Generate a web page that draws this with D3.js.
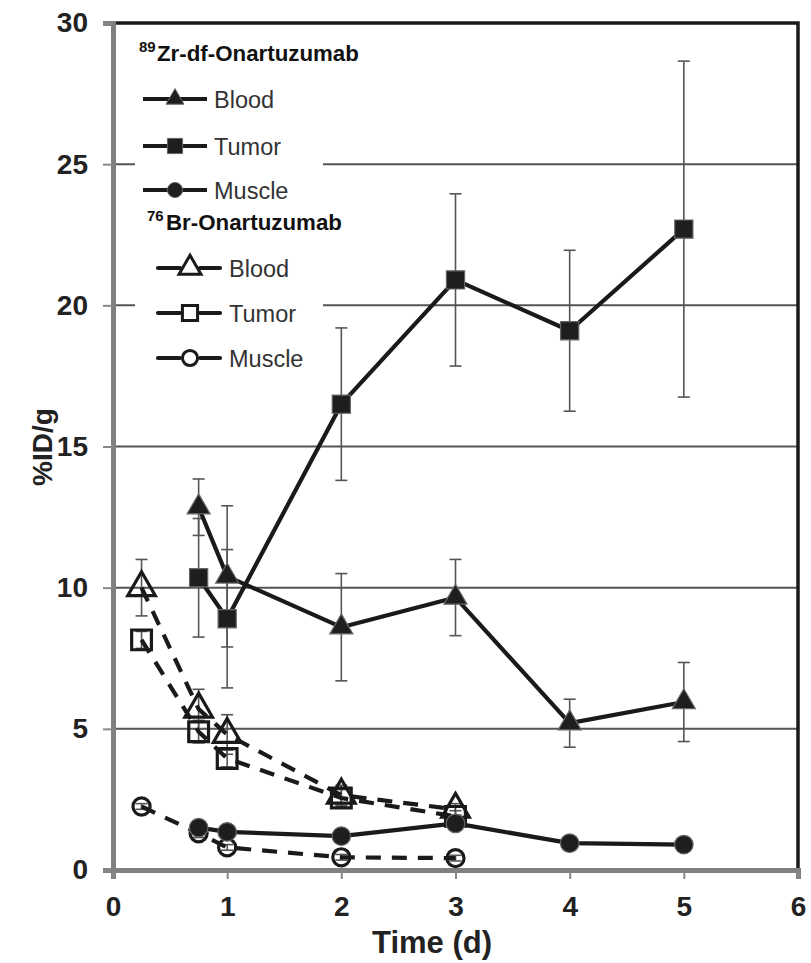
<!DOCTYPE html>
<html><head><meta charset="utf-8">
<script src="https://cdn.jsdelivr.net/npm/d3@7"></script>
<style>
html,body{margin:0;padding:0;background:#fff;}
svg{display:block;font-family:"Liberation Sans",Arial,sans-serif;}
</style></head>
<body>
<svg id="chart" width="811" height="963"></svg>
<script>
// ---- data ----
const xTicks = [0,1,2,3,4,5,6];
const yTicks = [0,5,10,15,20,25,30];
const gridValues = [5,10,15,20,25];

const zrTimes = [0.75,1,2,3,4,5];
const zrBlood = [12.85,10.4,8.6,9.65,5.2,5.95];
const zrBloodErr = [1.0,2.5,1.9,1.35,0.85,1.4];
const zrTumor = [10.35,8.9,16.5,20.9,19.1,22.7];
const zrTumorErr = [2.1,2.45,2.7,3.05,2.85,5.95];
const zrMuscle = [1.5,1.35,1.2,1.65,0.95,0.9];
const zrMuscleErr = [0.2,0.15,0.15,0.2,0.1,0.1];

const brTimes = [0.25,0.75,1,2,3];
const brBlood = [10.0,5.7,4.8,2.65,2.15];
const brBloodErr = [1.0,0.7,0.7,0.35,0.2];
const brTumor = [8.15,4.9,3.95,2.55,1.9];
const brTumorErr = [0.3,0.4,0.3,0.3,0.2];
const brMuscle = [2.25,1.3,0.8,0.45,0.42];
const brMuscleErr = [0.1,0.15,0.1,0.1,0.1];

const zrLabel = ["89","Zr-df-Onartuzumab"];
const brLabel = ["76","Br-Onartuzumab"];
const seriesNames = ["Blood","Tumor","Muscle"];

// ---- layout ----
const svg = d3.select("#chart");
const x = d3.scaleLinear().domain([0,6]).range([113,798]);
const y = d3.scaleLinear().domain([0,30]).range([870,23]);

const symTri = d3.symbolTriangle, symSq = d3.symbolSquare, symCirc = d3.symbolCircle;

// gridlines
svg.append("g").selectAll("line").data(gridValues).join("line")
  .attr("x1", x(0)).attr("x2", x(6))
  .attr("y1", d=>y(d)).attr("y2", d=>y(d))
  .attr("stroke","#555").attr("stroke-width",2);

// frame: top and right black
svg.append("path")
  .attr("d", `M${x(0)},${y(30)}H${x(6)}V${y(0)}`)
  .attr("fill","none").attr("stroke","#1a1a1a").attr("stroke-width",3.5);

// axes
const yAxis = d3.axisLeft(y).tickValues(yTicks).tickSize(10).tickPadding(15).tickFormat(d3.format("d"));
const gy = svg.append("g").attr("transform",`translate(${x(0)},0)`).call(yAxis);
gy.select(".domain").attr("stroke","#808080").attr("stroke-width",5);
gy.selectAll(".tick line").attr("stroke","#888").attr("stroke-width",2);
gy.selectAll(".tick text").attr("font-size",28).attr("font-weight","bold").attr("fill","#222")
  .attr("font-family",'"Liberation Sans",Arial,sans-serif');

const xAxis = d3.axisBottom(x).tickValues(xTicks).tickSize(9).tickPadding(17).tickFormat(d3.format("d"));
const gx = svg.append("g").attr("transform",`translate(0,${y(0)})`).call(xAxis);
gx.select(".domain").attr("stroke","#808080").attr("stroke-width",5);
gx.selectAll(".tick line").attr("stroke","#888").attr("stroke-width",2);
gx.selectAll(".tick text").attr("font-size",28).attr("font-weight","bold").attr("fill","#222")
  .attr("font-family",'"Liberation Sans",Arial,sans-serif');

// axis titles
svg.append("text").attr("x",432).attr("y",953).attr("text-anchor","middle")
  .attr("font-size",31).attr("font-weight","bold").attr("fill","#222").text("Time (d)");
svg.append("text").attr("transform","translate(52,447) rotate(-90)").attr("text-anchor","middle")
  .attr("font-size",28).attr("font-weight","bold").attr("fill","#222").text("%ID/g");

// legend background
svg.append("rect").attr("x",135).attr("y",32).attr("width",188).attr("height",350).attr("fill","#fff");

// error bars
function errorBars(times, vals, errs) {
  const g = svg.append("g").attr("stroke","#555").attr("stroke-width",1.6);
  times.forEach((t,i)=>{
    const cx = x(t), lo = y(vals[i]-errs[i]), hi = y(vals[i]+errs[i]);
    g.append("line").attr("x1",cx).attr("x2",cx).attr("y1",lo).attr("y2",hi);
    g.append("line").attr("x1",cx-6).attr("x2",cx+6).attr("y1",lo).attr("y2",lo);
    g.append("line").attr("x1",cx-6).attr("x2",cx+6).attr("y1",hi).attr("y2",hi);
  });
}
errorBars(zrTimes, zrBlood, zrBloodErr);
errorBars(zrTimes, zrTumor, zrTumorErr);
errorBars(zrTimes, zrMuscle, zrMuscleErr);
errorBars(brTimes, brBlood, brBloodErr);
errorBars(brTimes, brTumor, brTumorErr);
errorBars(brTimes, brMuscle, brMuscleErr);

// lines
const line = d3.line().x(d=>x(d[0])).y(d=>y(d[1]));
function drawLine(times, vals, dashed) {
  svg.append("path").datum(times.map((t,i)=>[t,vals[i]]))
    .attr("d", line).attr("fill","none").attr("stroke","#1a1a1a")
    .attr("stroke-width",4.2).attr("stroke-linejoin","round")
    .attr("stroke-dasharray", dashed ? "15,11" : null);
}
drawLine(brTimes, brBlood, true);
drawLine(brTimes, brTumor, true);
drawLine(brTimes, brMuscle, true);
drawLine(zrTimes, zrBlood, false);
drawLine(zrTimes, zrTumor, false);
drawLine(zrTimes, zrMuscle, false);

// markers
function drawMarkers(times, vals, type, size, open) {
  svg.append("g").selectAll("path").data(times.map((t,i)=>[t,vals[i]])).join("path")
    .attr("transform", d=>`translate(${x(d[0])},${y(d[1])})`)
    .attr("d", d3.symbol().type(type).size(size))
    .attr("fill", open ? "#fff" : "#1e1e1e")
    .attr("fill-opacity", open ? 0 : 1)
    .attr("stroke", open ? "#1a1a1a" : "#666")
    .attr("stroke-width", open ? 3.2 : 1.2);
}
drawMarkers(brTimes, brBlood, symTri, 330, true);
drawMarkers(brTimes, brTumor, symSq, 390, true);
drawMarkers(brTimes, brMuscle, symCirc, 230, true);
drawMarkers(zrTimes, zrBlood, symTri, 230, false);
drawMarkers(zrTimes, zrTumor, symSq, 330, false);
drawMarkers(zrTimes, zrMuscle, symCirc, 270, false);

// legend
function legendTitle(lbl, xs, xm, yb) {
  svg.append("text").attr("x",xs).attr("y",yb-9).attr("font-size",15).attr("font-weight","bold")
    .attr("fill","#111").text(lbl[0]);
  svg.append("text").attr("x",xm).attr("y",yb).attr("font-size",22.3).attr("font-weight","bold")
    .attr("fill","#111").text(lbl[1]);
}
legendTitle(zrLabel, 139, 157, 61);
legendTitle(brLabel, 147, 166, 230);

const zrTypes = [symTri, symSq, symCirc], zrSizes = [140,230,180];
const brTypes = [symTri, symSq, symCirc], brSizes = [210,230,180];
const zrRows = [99,146,190], brRows = [268,313,358];
seriesNames.forEach((name,i)=>{
  const yy = zrRows[i];
  svg.append("line").attr("x1",143).attr("x2",207).attr("y1",yy).attr("y2",yy)
    .attr("stroke","#1a1a1a").attr("stroke-width",4.2);
  svg.append("path").attr("transform",`translate(175,${yy})`)
    .attr("d", d3.symbol().type(zrTypes[i]).size(zrSizes[i]))
    .attr("fill","#1e1e1e").attr("stroke","#666").attr("stroke-width",1);
  svg.append("text").attr("x",214).attr("y",yy+8.5).attr("font-size",23.5).attr("fill","#333").text(name);
});
seriesNames.forEach((name,i)=>{
  const yy = brRows[i];
  svg.append("line").attr("x1",158).attr("x2",180).attr("y1",yy).attr("y2",yy)
    .attr("stroke","#1a1a1a").attr("stroke-width",4.2).attr("stroke-linecap","round");
  svg.append("line").attr("x1",200).attr("x2",220).attr("y1",yy).attr("y2",yy)
    .attr("stroke","#1a1a1a").attr("stroke-width",4.2).attr("stroke-linecap","round");
  svg.append("path").attr("transform",`translate(190,${yy})`)
    .attr("d", d3.symbol().type(brTypes[i]).size(brSizes[i]))
    .attr("fill","#fff").attr("stroke","#1a1a1a").attr("stroke-width",3);
  svg.append("text").attr("x",229).attr("y",yy+8.5).attr("font-size",23.5).attr("fill","#333").text(name);
});
</script>
</body></html>
